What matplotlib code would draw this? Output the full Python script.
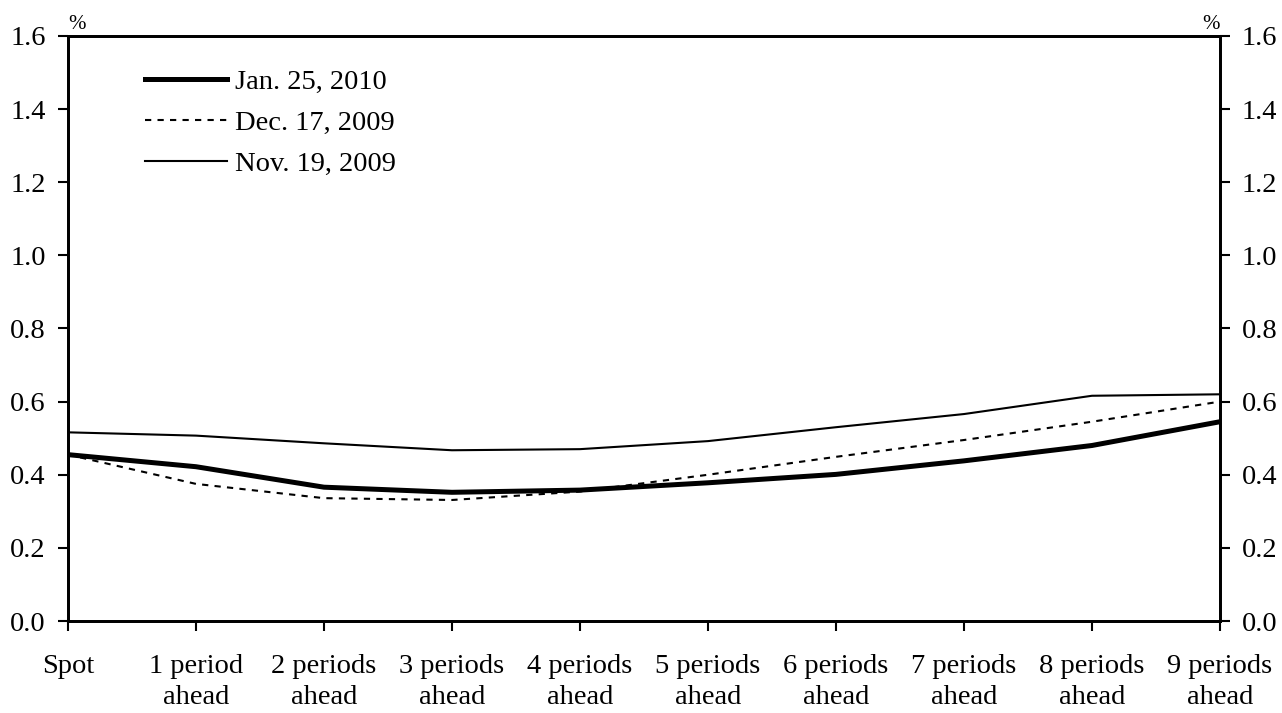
import matplotlib.pyplot as plt

plt.rcParams['font.family'] = ['Liberation Serif', 'DejaVu Serif']

# dati
categorie = ['Spot', '1 period\nahead', '2 periods\nahead', '3 periods\nahead', '4 periods\nahead',
             '5 periods\nahead', '6 periods\nahead', '7 periods\nahead', '8 periods\nahead', '9 periods\nahead']
jan_2010 = [0.455, 0.422, 0.366, 0.352, 0.358, 0.378, 0.401, 0.438, 0.480, 0.545]
dec_2009 = [0.455, 0.375, 0.336, 0.331, 0.354, 0.400, 0.449, 0.495, 0.545, 0.600]
nov_2009 = [0.516, 0.507, 0.486, 0.467, 0.470, 0.492, 0.530, 0.566, 0.616, 0.620]

fs = 20.5

fig = plt.figure(figsize=(12.82, 7.13), dpi=100)
ax = fig.add_axes([0.053, 0.129, 0.8986, 0.8206])

x = range(len(categorie))
ax.plot(x, jan_2010, color='black', linewidth=3.6, label='Jan. 25, 2010')
ax.plot(x, dec_2009, color='black', linewidth=1.5, linestyle=(0, (3, 3)), label='Dec. 17, 2009')
ax.plot(x, nov_2009, color='black', linewidth=1.5, label='Nov. 19, 2009')

ax.set_xlim(0, 9)
ax.set_ylim(0, 1.6)
ax.set_xticks(list(x))
ax.set_xticklabels(categorie, fontsize=fs, linespacing=1.28)
yt = [0.0, 0.2, 0.4, 0.6, 0.8, 1.0, 1.2, 1.4, 1.6]
ax.set_yticks(yt)
ax.set_yticklabels([f'{v:.1f}' for v in yt], fontsize=fs)
ax.tick_params(axis='both', direction='out', length=7, width=1.5, color='black')
ax.tick_params(axis='x', pad=17)
ax.tick_params(axis='y', pad=9)

ax2 = ax.twinx()
ax2.set_ylim(0, 1.6)
ax2.set_yticks(yt)
ax2.set_yticklabels([f'{v:.1f}' for v in yt], fontsize=fs)
ax2.tick_params(axis='y', direction='out', length=7, width=1.5, pad=8.5)

for a in (ax, ax2):
    for s in a.spines.values():
        s.set_linewidth(2)

ax.text(0.0, 1.003, '%', transform=ax.transAxes, fontsize=15, ha='left', va='bottom')
ax.text(1.0, 1.003, '%', transform=ax.transAxes, fontsize=15, ha='right', va='bottom')

ax.legend(loc='upper left', bbox_to_anchor=(0.067, 0.944), frameon=False, fontsize=fs,
          handlelength=2.88, handletextpad=0.28, labelspacing=0.53, borderpad=0, borderaxespad=0)

plt.savefig('out.png', dpi=100)
